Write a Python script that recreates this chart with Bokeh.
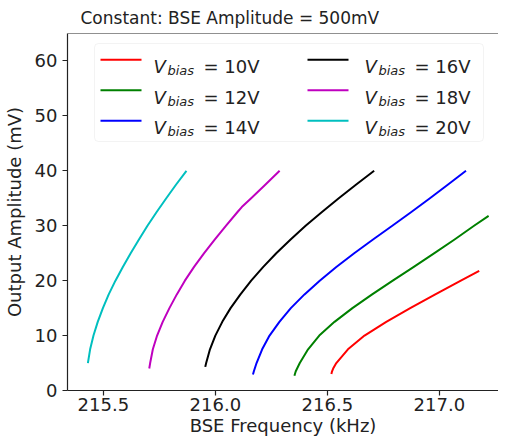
from bokeh.plotting import figure
from bokeh.models import Range1d, FixedTicker, Span, BoxAnnotation, NumeralTickFormatter, ColumnDataSource
from bokeh.core.properties import value
from bokeh.embed import file_html
from bokeh.resources import INLINE

# ---------------- data ----------------
bias_labels = ["10V", "12V", "14V", "16V", "18V", "20V"]
colors = ["#ff0000", "#008000", "#0000ff", "#000000", "#bf00bf", "#00bfbf"]

amp_10v = [3.0, 3.5, 4, 5, 7.5, 10, 12.5, 15, 17.5, 20, 21.8]
freq_10v = [216.518, 216.521, 216.526, 216.540, 216.592, 216.666, 216.763, 216.870, 216.982,
            217.096, 217.178]

amp_12v = [2.7, 3.5, 5, 7.5, 10, 12.5, 15, 17.5, 20, 22.5, 25, 27.5, 30, 31.8]
freq_12v = [216.353, 216.359, 216.377, 216.414, 216.464, 216.532, 216.612, 216.700, 216.792,
            216.886, 216.978, 217.068, 217.155, 217.220]

amp_14v = [2.9, 3.5, 5, 7.5, 10, 12.5, 15, 17.5, 20, 22.5, 25, 27.5, 30, 32.5, 35, 37.5, 40]
freq_14v = [216.168, 216.172, 216.184, 216.209, 216.242, 216.286, 216.337, 216.398, 216.466,
            216.540, 216.620, 216.704, 216.790, 216.875, 216.958, 217.039, 217.119]

amp_16v = [4.3, 5, 7.5, 10, 12.5, 15, 17.5, 20, 22.5, 25, 27.5, 30, 32.5, 35, 37.5, 40]
freq_16v = [215.955, 215.959, 215.976, 216.000, 216.031, 216.068, 216.112, 216.160, 216.214,
            216.272, 216.336, 216.403, 216.476, 216.551, 216.629, 216.709]

amp_18v = [4.0, 5, 7.5, 10, 12.5, 15, 17.5, 20, 22.5, 25, 27.5, 30, 32.5, 33.4, 35, 37.5, 40]
freq_18v = [215.705, 215.709, 215.721, 215.740, 215.765, 215.795, 215.828, 215.864, 215.905,
            215.950, 215.998, 216.048, 216.099, 216.118, 216.160, 216.224, 216.287]

amp_20v = [5.0, 7.5, 10, 12.5, 15, 17.5, 20, 22.5, 25, 27.5, 30, 32.5, 35, 37.5, 40]
freq_20v = [215.431, 215.441, 215.456, 215.475, 215.498, 215.524, 215.554, 215.587, 215.622,
            215.659, 215.697, 215.738, 215.781, 215.825, 215.871]

x_ticks = [215.5, 216.0, 216.5, 217.0]
y_ticks = [0, 10, 20, 30, 40, 50, 60]

title_text = "Constant: BSE Amplitude = 500mV"
x_label = "BSE Frequency (kHz)"
y_label = "Output Amplitude (mV)"

series = [
    (freq_10v, amp_10v), (freq_12v, amp_12v), (freq_14v, amp_14v),
    (freq_16v, amp_16v), (freq_18v, amp_18v), (freq_20v, amp_20v),
]

# ---------------- layout / style ----------------
FONT = "DejaVu Sans"
TXT = "#222222"
FW, FH = 431, 357
X0, X1 = 215.34, 215.34 + FW / 224.0
Y0, Y1 = 0, 65

p = figure(
    frame_width=FW, frame_height=FH,
    x_range=Range1d(X0, X1), y_range=Range1d(Y0, Y1),
    output_backend="svg", toolbar_location=None,
    min_border_left=61, min_border_right=0, min_border_top=25, min_border_bottom=46,
    title=title_text,
)
p.background_fill_color = "white"
p.border_fill_color = "white"
p.outline_line_color = None
p.grid.visible = False

p.title.text_font = FONT
p.title.text_font_size = "17px"
p.title.text_font_style = "normal"
p.title.text_color = TXT
p.title.align = "left"
p.title.offset = 13
p.title.standoff = 11

for ax in (p.xaxis[0], p.yaxis[0]):
    ax.axis_line_color = TXT
    ax.axis_line_width = 1.2
    ax.major_tick_line_color = TXT
    ax.major_tick_line_width = 1.2
    ax.major_tick_in = 0
    ax.major_tick_out = 5
    ax.minor_tick_line_color = None
    ax.major_label_text_font = FONT
    ax.major_label_text_font_size = "18px"
    ax.major_label_text_color = TXT
    ax.axis_label_text_font = FONT
    ax.axis_label_text_font_size = "18px"
    ax.axis_label_text_font_style = "normal"
    ax.axis_label_text_color = TXT

p.xaxis.ticker = FixedTicker(ticks=x_ticks)
p.xaxis.formatter = NumeralTickFormatter(format="0.0")
p.xaxis.axis_label = x_label
p.xaxis.major_label_standoff = 2
p.xaxis.axis_label_standoff = 1

p.yaxis.ticker = FixedTicker(ticks=y_ticks)
p.yaxis.axis_label = y_label
p.yaxis.major_label_standoff = 5
p.yaxis.axis_label_standoff = 7

# top spine
p.add_layout(Span(location=Y1, dimension="width", line_color=TXT, line_width=1.2))

# ---------------- curves ----------------
for (fx_, ay_), c in zip(series, colors):
    p.line(fx_, ay_, line_color=c, line_width=2, line_join="round")

# ---------------- legend (matplotlib-like, with V_bias) ----------------
def px_x(px):
    return X0 + px * (X1 - X0) / FW

def px_y(py):
    return Y1 - py * (Y1 - Y0) / FH

p.add_layout(BoxAnnotation(
    left=px_x(27), right=px_x(416), top=px_y(10), bottom=px_y(108),
    fill_color="white", fill_alpha=0.8, line_color="#d6d6d6", line_width=1,
    border_radius=4, level="underlay",
))

row_py = [26.3, 56.8, 87.3]
col_sw = [(33, 74), (240, 281)]
col_tx = [86, 297]

sx0, sx1, sy, tx, ty, sub_x, sub_y, eq_x = [], [], [], [], [], [], [], []
eq_txt = []
for i, lab in enumerate(bias_labels):
    col, row = divmod(i, 3)
    yy = row_py[row]
    sx0.append(px_x(col_sw[col][0]))
    sx1.append(px_x(col_sw[col][1]))
    sy.append(px_y(yy))
    tx.append(px_x(col_tx[col]))
    ty.append(px_y(yy + 7.0))
    sub_x.append(px_x(col_tx[col] + 14))
    sub_y.append(px_y(yy + 11.0))
    eq_x.append(px_x(col_tx[col] + 50))
    eq_txt.append("= " + lab)

seg_src = ColumnDataSource(dict(x0=sx0, x1=sx1, y=sy, c=colors))
p.segment(x0="x0", y0="y", x1="x1", y1="y", line_color="c", line_width=2, source=seg_src)

p.text(x=tx, y=ty, text=["V"] * len(tx), text_font=value(FONT), text_font_style="italic",
       text_font_size="18px", text_color=TXT, text_baseline="alphabetic")
p.text(x=sub_x, y=sub_y, text=["bias"] * len(tx), text_font=value(FONT), text_font_style="italic",
       text_font_size="13px", text_color=TXT, text_baseline="alphabetic")
p.text(x=eq_x, y=ty, text=eq_txt, text_font=value(FONT),
       text_font_size="18px", text_color=TXT, text_baseline="alphabetic")

open("out.html", "w").write(file_html(p, INLINE))
